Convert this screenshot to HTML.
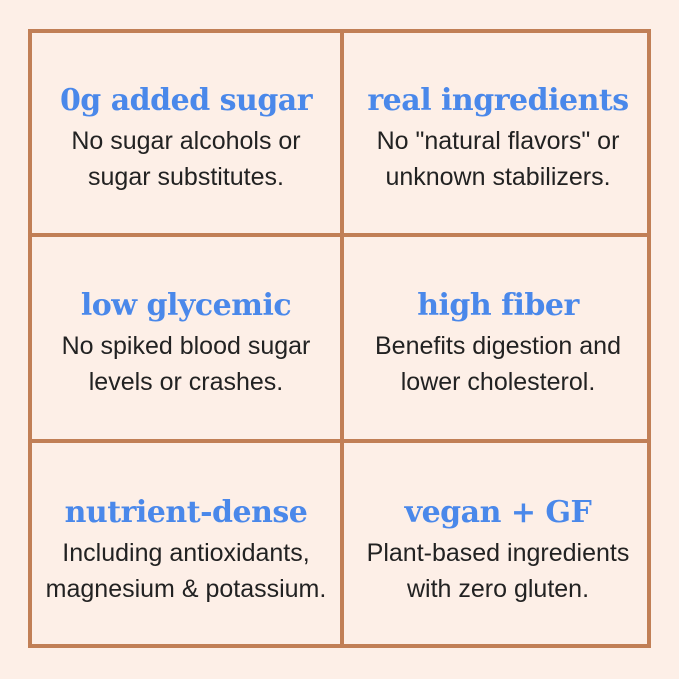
<!DOCTYPE html>
<html><head><style>
body{margin:0;width:679px;height:679px;background:#fdefe7;position:relative;overflow:hidden}
.g{position:absolute;left:28px;top:29px;width:615px;height:611px;border:4px solid #c17f56}
.v{position:absolute;left:340px;top:29px;width:4px;height:619px;background:#c17f56}
.h{position:absolute;left:28px;width:623px;height:4px;background:#c17f56}
.c{position:absolute;width:312px;text-align:center}
.t{font-family:"DejaVu Serif","Liberation Serif",serif;font-weight:bold;color:#4a88ea;font-size:30px;letter-spacing:-0.5px;line-height:34px}
.b{font-family:"Liberation Sans",sans-serif;color:#222;font-size:25px;line-height:36px;margin-top:5px}
</style></head><body>
<div class="g"></div><div class="v"></div>
<div class="h" style="top:233px"></div><div class="h" style="top:439px"></div>
<div class="c" style="left:30px;top:84px"><div class="t">0g added sugar</div><div class="b">No sugar alcohols or<br>sugar substitutes.</div></div>
<div class="c" style="left:342px;top:84px"><div class="t">real ingredients</div><div class="b">No "natural flavors" or<br>unknown stabilizers.</div></div>
<div class="c" style="left:30px;top:289px"><div class="t">low glycemic</div><div class="b">No spiked blood sugar<br>levels or crashes.</div></div>
<div class="c" style="left:342px;top:289px"><div class="t">high fiber</div><div class="b">Benefits digestion and<br>lower cholesterol.</div></div>
<div class="c" style="left:30px;top:496px"><div class="t">nutrient-dense</div><div class="b">Including antioxidants,<br>magnesium &amp; potassium.</div></div>
<div class="c" style="left:342px;top:496px"><div class="t">vegan + GF</div><div class="b">Plant-based ingredients<br>with zero gluten.</div></div>
</body></html>
